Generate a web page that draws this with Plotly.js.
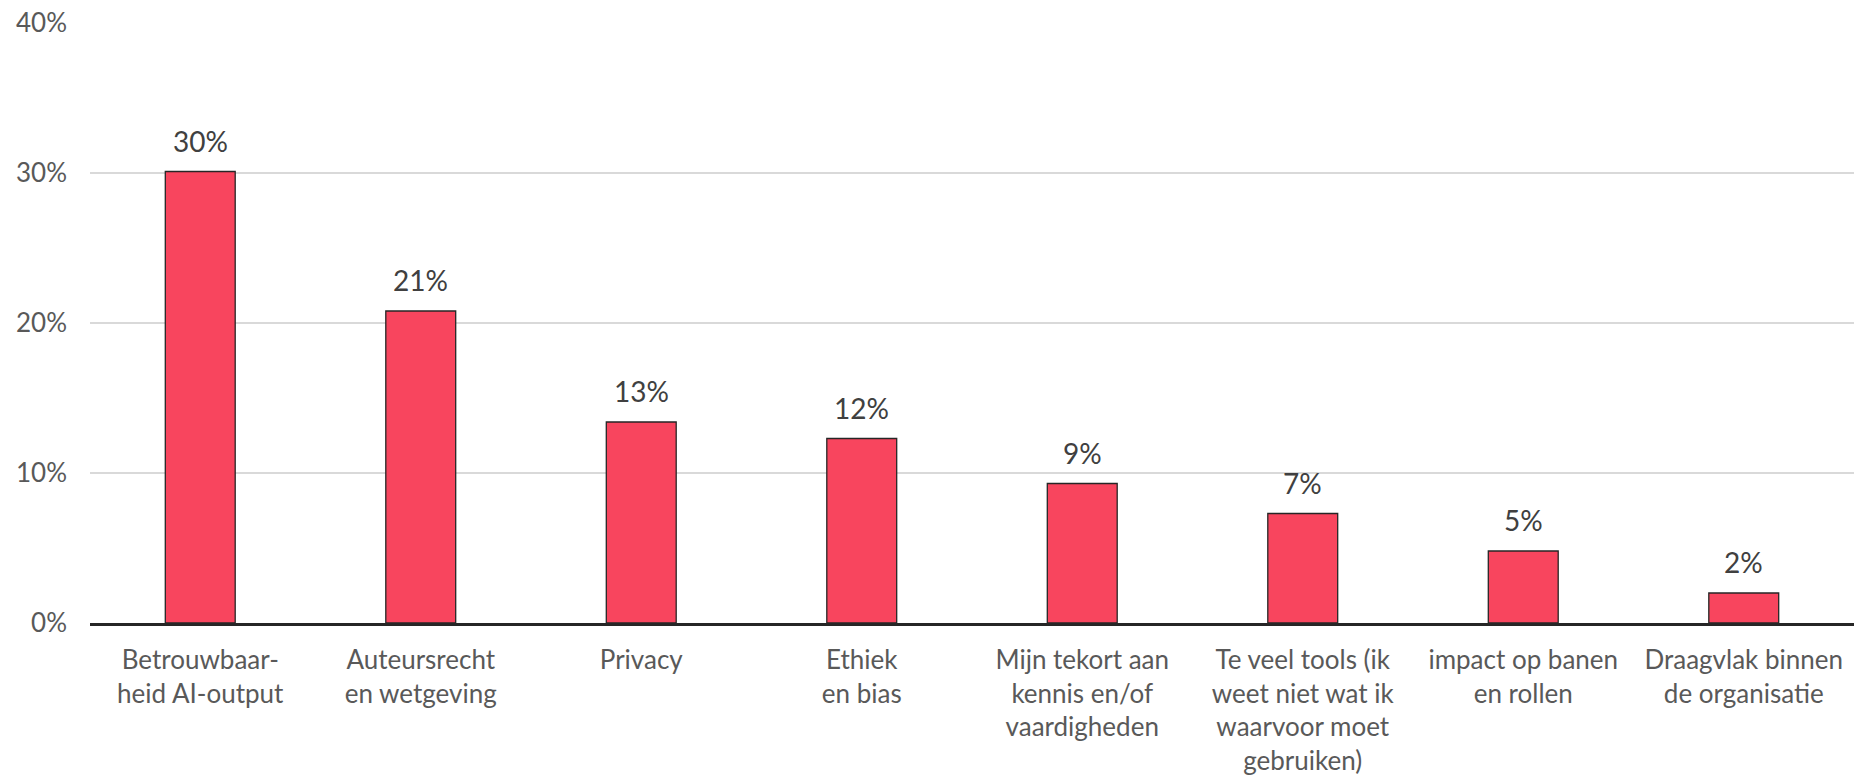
<!DOCTYPE html>
<html>
<head>
<meta charset="utf-8">
<script src="https://cdn.plot.ly/plotly-3.0.1.min.js"></script>
<style>html,body{margin:0;padding:0;background:#fff;}#chart{width:1857px;height:783px;}</style>
</head>
<body>
<div id="chart"></div>
<script>
const categories = [
  "Betrouwbaar-<br>heid AI-output",
  "Auteursrecht<br>en wetgeving",
  "Privacy",
  "Ethiek<br>en bias",
  "Mijn tekort aan<br>kennis en/of<br>vaardigheden",
  "Te veel tools (ik<br>weet niet wat ik<br>waarvoor moet<br>gebruiken)",
  "impact op banen<br>en rollen",
  "Draagvlak binnen<br>de organisatie"
];
const values = [30.1, 20.8, 13.4, 12.3, 9.3, 7.3, 4.8, 2.0];
const valueLabels = ["30%", "21%", "13%", "12%", "9%", "7%", "5%", "2%"];
const yTickVals = [0, 10, 20, 30, 40];
const yTickText = ["0%", "10%", "20%", "30%", "40%"];

const FONT = "Lato, 'Open Sans', sans-serif";

const trace = {
  type: "bar",
  x: categories,
  y: values,
  marker: { color: "#F8455E", line: { color: "#262626", width: 1.3 } },
  hoverinfo: "skip"
};

const annotations = categories.map((c, i) => ({
  x: c, y: values[i], xref: "x", yref: "y",
  text: valueLabels[i], showarrow: false,
  yanchor: "bottom", yshift: 12,
  font: { family: FONT, size: 28, color: "#404040" }
}));

const layout = {
  width: 1857, height: 783,
  margin: { l: 90, r: 3, t: 23, b: 160 },
  paper_bgcolor: "#fff", plot_bgcolor: "#fff",
  showlegend: false,
  bargap: 0.683,
  font: { family: FONT, size: 26, color: "#595959" },
  xaxis: {
    type: "category",
    showline: true, linecolor: "#262626", linewidth: 2.5,
    showgrid: false, ticks: "",
    tickfont: { family: FONT, size: 26, color: "#595959" },
    ticklabelstandoff: 12
  },
  yaxis: {
    range: [0, 40],
    tickvals: yTickVals, ticktext: yTickText,
    showgrid: true, gridcolor: "#d9d9d9", gridwidth: 2,
    zeroline: false, showline: false, ticks: "",
    tickfont: { family: FONT, size: 26, color: "#595959" },
    ticklabelstandoff: 22
  },
  annotations: annotations
};

Plotly.newPlot("chart", [trace], layout, { displayModeBar: false, staticPlot: true });
</script>
</body>
</html>
